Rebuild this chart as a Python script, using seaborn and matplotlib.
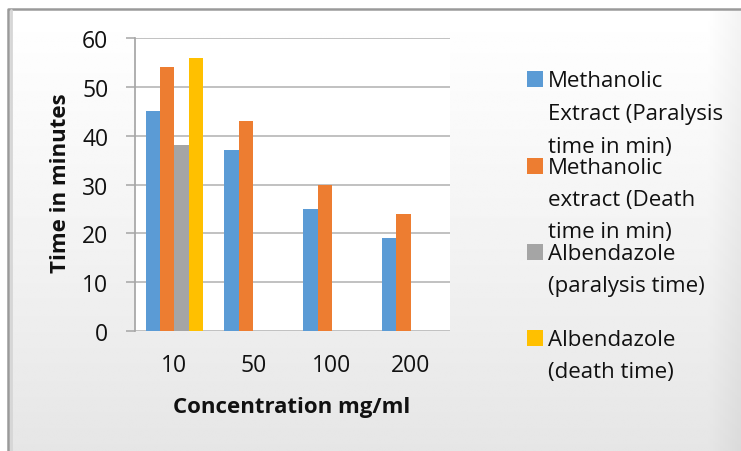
import numpy as np
import pandas as pd
import matplotlib
matplotlib.use("Agg")
import matplotlib.pyplot as plt
from matplotlib.patches import Rectangle
import seaborn as sns

# ---- data ----
concentrations = ["10", "50", "100", "200"]
series_names = [
    "Methanolic\nExtract (Paralysis\ntime in min)",
    "Methanolic\nextract (Death\ntime in min)",
    "Albendazole\n(paralysis time)",
    "Albendazole\n(death time)",
]
meth_paralysis = [45, 37, 25, 19]
meth_death = [54, 43, 30, 24]
alb_paralysis = [38, np.nan, np.nan, np.nan]
alb_death = [56, np.nan, np.nan, np.nan]
colors = ["#5B9BD5", "#ED7D31", "#A5A5A5", "#FFC000"]
yticks = [0, 10, 20, 30, 40, 50, 60]

rows = []
for name, vals in zip(series_names, [meth_paralysis, meth_death, alb_paralysis, alb_death]):
    for c, v in zip(concentrations, vals):
        rows.append({"Concentration": c, "Series": name, "Value": v})
df = pd.DataFrame(rows)

sns.set_theme(style="white")
plt.rcParams["font.family"] = ["Open Sans", "DejaVu Sans"]

FS = 16.5
FSB = 16
FSL = 16
W, H = 741, 452
fig = plt.figure(figsize=(W / 100, H / 100), dpi=100)
fig.patch.set_facecolor("white")

# background gradient panel
bg = fig.add_axes([0, 0, 1, 1], zorder=-10)
bg.set_xlim(0, W)
bg.set_ylim(H, 0)
bg.axis("off")
yy = np.linspace(0, 1, 200)[:, None]
xx = np.linspace(0, 1, 300)[None, :]
grad = 1.0 - 0.10 * yy ** 1.1
shade = np.clip((xx * W - 705) / 36, 0, 1) * 0.05
img = np.clip(grad - shade, 0, 1)
bg.imshow(img, cmap="gray", vmin=0, vmax=1, extent=[8, W + 5, H + 5, 10], aspect="auto")
bg.plot([8, 8, W + 5], [H + 5, 10, 10], color="#9a9a9a", lw=1.8)
bg.plot([10.5, 10.5], [11, H], color="#d6d6d6", lw=2)

ax = fig.add_axes([135 / W, 1 - 332 / H, 315 / W, 293 / H])
ax.set_facecolor("white")
sns.barplot(data=df, x="Concentration", y="Value", hue="Series", order=concentrations,
            hue_order=series_names, palette=colors, width=0.73, dodge=True,
            edgecolor="none", saturation=1, ax=ax, legend=False)

ax.set_ylim(0, 60)
ax.set_yticks(yticks)
ax.set_xlim(-0.5, 3.5)
ax.yaxis.grid(True, color="#b0b0b0", lw=1.1)
ax.set_axisbelow(True)
for s in ["top", "right", "bottom"]:
    ax.spines[s].set_visible(False)
ax.spines["left"].set_color("#a6a6a6")
ax.tick_params(axis="y", length=6.2, color="#a6a6a6", width=1.1, pad=13, labelsize=FS, labelcolor="#111111")
ax.tick_params(axis="x", length=0, pad=16, labelsize=FS, labelcolor="#111111")
ax.yaxis.set_ticks_position("left")
for t in ax.get_yticklines():
    t.set_clip_on(False)

ax.set_xlabel("Concentration mg/ml", fontsize=FSB, fontweight="bold", color="#111111")
ax.set_ylabel("Time in minutes", fontsize=FSB, fontweight="bold", color="#111111")
ax.xaxis.set_label_coords(0.497, -0.259)
ax.xaxis.label.set_va("center")
ax.yaxis.set_label_coords(-0.238, 0.509)
ax.yaxis.label.set_va("center")

# legend (manual, Excel-like spacing); baselines in pixels from top
baselines = [[87, 120, 153], [174, 206, 238], [260, 292], [346, 378]]
for name, col, bls in zip(series_names, colors, baselines):
    b0 = bls[0]
    fig.patches.append(Rectangle((527 / W, 1 - (b0 + 1) / H), 16 / W, 16 / H,
                                 transform=fig.transFigure, facecolor=col, edgecolor="none"))
    for line, bl in zip(name.split("\n"), bls):
        fig.text(548 / W, 1 - bl / H, line, fontsize=FSL,
                 va="baseline", ha="left", color="#111111")

fig.savefig("out.png", dpi=100)
